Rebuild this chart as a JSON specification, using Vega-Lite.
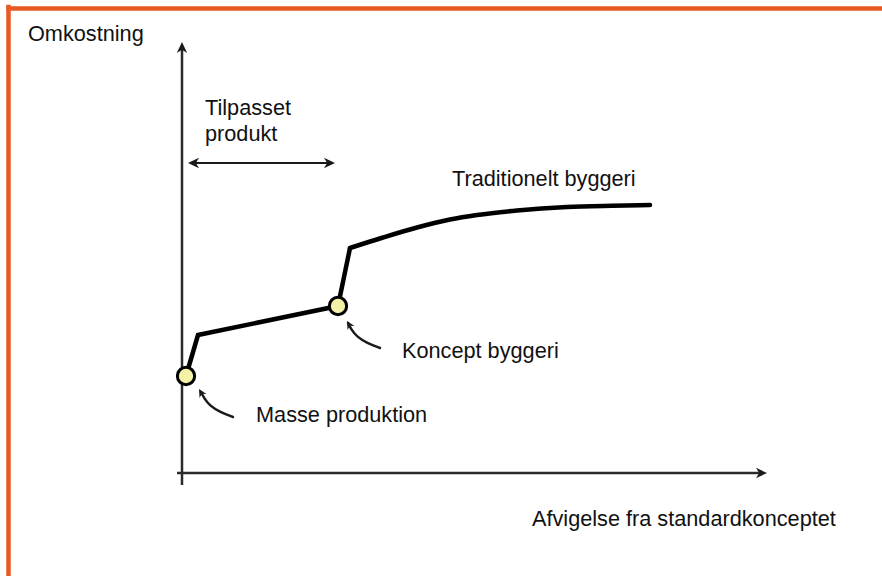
{
  "$schema": "https://vega.github.io/schema/vega-lite/v6.json",
  "width": 882,
  "height": 576,
  "autosize": {"type": "none"},
  "padding": 0,
  "background": "white",
  "config": {"view": {"stroke": null}},
  "datasets": {
    "border": [
      {"x": -173.5, "y": 464.5, "x2": 700, "y2": 464.5},
      {"x": -173.5, "y": 466, "x2": -173.5, "y2": -103}
    ],
    "axes": [
      {"x": 0, "y": -12, "x2": 0, "y2": 424},
      {"x": -5, "y": 0, "x2": 578, "y2": 0}
    ],
    "span": [
      {"x": 10, "y": 310, "x2": 149, "y2": 310}
    ],
    "headUp": [
      {"x": 0, "y": 431}
    ],
    "headRight": [
      {"x": 585, "y": 0},
      {"x": 153, "y": 310}
    ],
    "headLeft": [
      {"x": 6, "y": 310}
    ],
    "knee": [
      {"x": 4, "y": 97, "i": 1},
      {"x": 16, "y": 138, "i": 2},
      {"x": 156, "y": 167, "i": 3},
      {"x": 168, "y": 225, "i": 4}
    ],
    "sweep": [
      {"x": 168, "y": 225, "i": 1},
      {"x": 201, "y": 235.5, "i": 2},
      {"x": 235, "y": 245.5, "i": 3},
      {"x": 268, "y": 253.5, "i": 4},
      {"x": 295, "y": 258, "i": 5},
      {"x": 335, "y": 262.5, "i": 6},
      {"x": 385, "y": 266, "i": 7},
      {"x": 430, "y": 267.3, "i": 8},
      {"x": 468, "y": 268, "i": 9}
    ],
    "dots": [
      {"x": 4, "y": 97},
      {"x": 156, "y": 167}
    ],
    "pointers": [
      {"label": "masse", "x": 51, "y": 56, "i": 1},
      {"label": "masse", "x": 38, "y": 61, "i": 2},
      {"label": "masse", "x": 28, "y": 67, "i": 3},
      {"label": "masse", "x": 22, "y": 75, "i": 4},
      {"label": "masse", "x": 19, "y": 81, "i": 5},
      {"label": "koncept", "x": 198, "y": 125, "i": 1},
      {"label": "koncept", "x": 185, "y": 130, "i": 2},
      {"label": "koncept", "x": 175, "y": 136, "i": 3},
      {"label": "koncept", "x": 169, "y": 144, "i": 4},
      {"label": "koncept", "x": 166, "y": 150, "i": 5}
    ],
    "pointerTips": [
      {"x": 17, "y": 84},
      {"x": 165, "y": 152}
    ],
    "labels": [
      {"x": -154, "y": 432, "text": "Omkostning"},
      {"x": 23, "y": 358, "text": "Tilpasset"},
      {"x": 23, "y": 332, "text": "produkt"},
      {"x": 270, "y": 287, "text": "Traditionelt byggeri"},
      {"x": 220, "y": 115, "text": "Koncept byggeri"},
      {"x": 74, "y": 51, "text": "Masse produktion"},
      {"x": 350, "y": -53, "text": "Afvigelse fra standardkonceptet"}
    ]
  },
  "encoding": {
    "x": {"field": "x", "type": "quantitative", "scale": {"domain": [-182, 700], "nice": false, "zero": false}, "axis": null},
    "y": {"field": "y", "type": "quantitative", "scale": {"domain": [-103, 473], "nice": false, "zero": false}, "axis": null}
  },
  "layer": [
    {
      "data": {"name": "border"},
      "mark": {"type": "rule", "color": "#E85A24", "strokeWidth": 4.5, "strokeCap": "square"},
      "encoding": {"x2": {"field": "x2"}, "y2": {"field": "y2"}}
    },
    {
      "data": {"name": "axes"},
      "mark": {"type": "rule", "color": "#2b2b2b", "strokeWidth": 2.5},
      "encoding": {"x2": {"field": "x2"}, "y2": {"field": "y2"}}
    },
    {
      "data": {"name": "span"},
      "mark": {"type": "rule", "color": "#1a1a1a", "strokeWidth": 2.2},
      "encoding": {"x2": {"field": "x2"}, "y2": {"field": "y2"}}
    },
    {
      "data": {"name": "headUp"},
      "mark": {"type": "point", "shape": "M0,0L0.8,1.7L0,1.2L-0.8,1.7Z", "filled": true, "color": "#1a1a1a", "opacity": 1, "size": 169, "angle": 0}
    },
    {
      "data": {"name": "headRight"},
      "mark": {"type": "point", "shape": "M0,0L0.8,1.7L0,1.2L-0.8,1.7Z", "filled": true, "color": "#1a1a1a", "opacity": 1, "size": 169, "angle": 90}
    },
    {
      "data": {"name": "headLeft"},
      "mark": {"type": "point", "shape": "M0,0L0.8,1.7L0,1.2L-0.8,1.7Z", "filled": true, "color": "#1a1a1a", "opacity": 1, "size": 169, "angle": 270}
    },
    {
      "data": {"name": "knee"},
      "mark": {"type": "line", "color": "#000000", "strokeWidth": 4.5, "strokeJoin": "miter"},
      "encoding": {"order": {"field": "i", "type": "quantitative"}}
    },
    {
      "data": {"name": "sweep"},
      "mark": {"type": "line", "color": "#000000", "strokeWidth": 4.5, "interpolate": "monotone", "strokeCap": "round"},
      "encoding": {"order": {"field": "i", "type": "quantitative"}}
    },
    {
      "data": {"name": "dots"},
      "mark": {"type": "point", "shape": "circle", "filled": true, "fill": "#F5F2A8", "stroke": "#000000", "strokeWidth": 3, "size": 300, "opacity": 1}
    },
    {
      "data": {"name": "pointers"},
      "mark": {"type": "line", "color": "#1a1a1a", "strokeWidth": 2.5, "interpolate": "basis", "strokeCap": "round"},
      "encoding": {
        "detail": {"field": "label", "type": "nominal"},
        "order": {"field": "i", "type": "quantitative"}
      }
    },
    {
      "data": {"name": "pointerTips"},
      "mark": {"type": "point", "shape": "M0,0L1,2L0,1.4L-1,2Z", "filled": true, "color": "#1a1a1a", "opacity": 1, "size": 64, "angle": 330}
    },
    {
      "data": {"name": "labels"},
      "mark": {"type": "text", "align": "left", "baseline": "alphabetic", "font": "Liberation Sans", "fontSize": 21.7, "color": "#111111"},
      "encoding": {"text": {"field": "text", "type": "nominal"}}
    }
  ]
}
